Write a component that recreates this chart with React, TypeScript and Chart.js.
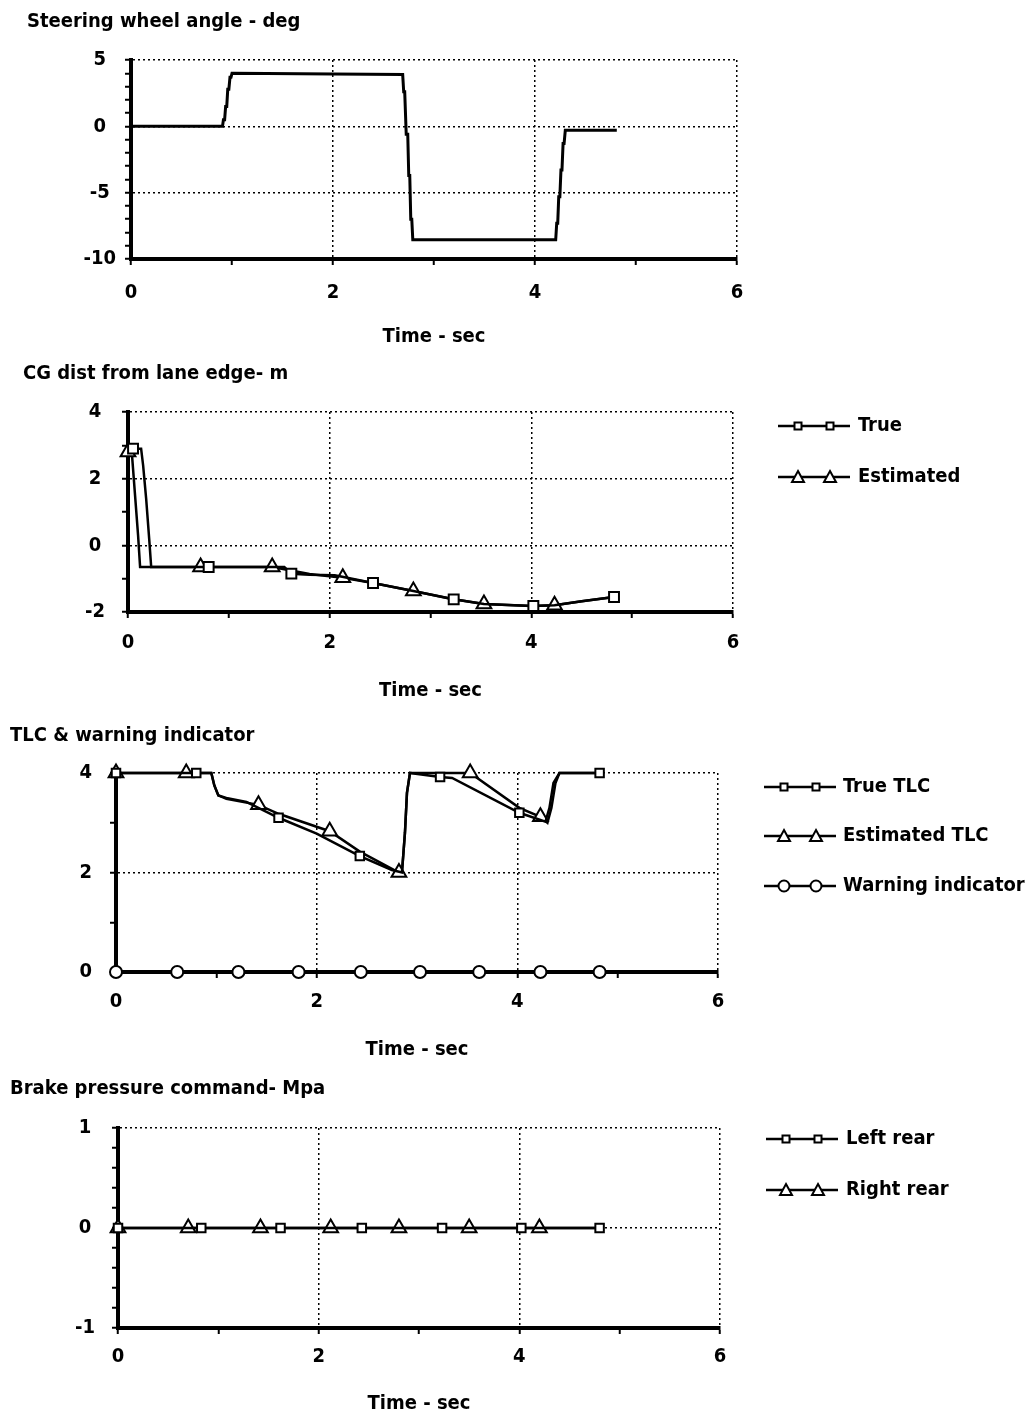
import React, { useEffect, useRef } from 'react';
import { Chart, registerables } from 'chart.js';

Chart.register(...registerables);

const FONT = '"DejaVu Sans Condensed", "DejaVu Sans", sans-serif';
const FSIZE = 20;
const FWEIGHT = 'bold';

// ---------- Panel 1: Steering wheel angle ----------
const steerT = [0, 0.906, 0.915, 0.927, 0.937, 0.948, 0.958, 0.969, 0.98, 0.99, 1.0, 1.01, 2.0, 2.69, 2.7, 2.71, 2.725, 2.74, 2.75, 2.76, 2.77, 2.78, 2.79, 2.8, 4.205, 4.215, 4.225, 4.235, 4.246, 4.257, 4.267, 4.278, 4.288, 4.3, 4.31, 4.81];
const steerV = [0, 0, 0.5, 0.5, 1.5, 1.5, 2.8, 2.8, 3.7, 3.7, 4.0, 4.0, 3.95, 3.9, 2.6, 2.6, -0.6, -0.6, -3.7, -3.7, -7.0, -7.0, -8.55, -8.55, -8.55, -7.3, -7.3, -5.3, -5.3, -3.3, -3.3, -1.3, -1.3, -0.3, -0.3, -0.3];

// ---------- Panel 2: CG distance from lane edge ----------
const cgTrueT = [0.05, 0.13, 0.15, 0.18, 0.21, 0.23, 0.8, 1.55, 1.62, 1.8, 2.05, 2.15, 2.43, 2.83, 3.23, 3.53, 4.02, 4.23, 4.5, 4.82];
const cgTrueV = [2.9, 2.9, 2.4, 1.4, 0.2, -0.65, -0.65, -0.65, -0.85, -0.88, -0.9, -0.96, -1.13, -1.37, -1.62, -1.76, -1.82, -1.8, -1.68, -1.55];
const cgTrueMarks = [0.05, 0.8, 1.62, 2.43, 3.23, 4.02, 4.82];
const cgEstT = [0, 0.04, 0.07, 0.1, 0.12, 0.72, 1.43, 1.55, 1.8, 2.13, 2.43, 2.83, 3.2, 3.53, 4.0, 4.23, 4.5, 4.82];
const cgEstV = [2.8, 2.7, 1.5, 0.3, -0.65, -0.65, -0.65, -0.72, -0.86, -0.97, -1.13, -1.37, -1.6, -1.76, -1.82, -1.8, -1.68, -1.55];
const cgEstMarks = [0, 0.72, 1.43, 2.13, 2.83, 3.53, 4.23];

// ---------- Panel 3: TLC & warning indicator ----------
const tlcTrueT = [0, 0.8, 0.95, 0.98, 1.02, 1.1, 1.3, 1.62, 2.0, 2.43, 2.75, 2.85, 2.88, 2.9, 2.93, 3.23, 3.35, 4.02, 4.28, 4.32, 4.36, 4.42, 4.82];
const tlcTrueV = [4, 4, 4, 3.75, 3.55, 3.5, 3.42, 3.1, 2.78, 2.33, 2.05, 2.0, 2.8, 3.6, 4.0, 3.92, 3.9, 3.2, 3.02, 3.3, 3.8, 4.0, 4.0];
const tlcTrueMarks = [0, 0.8, 1.62, 2.43, 3.23, 4.02, 4.82];
const tlcEstT = [0, 0.7, 0.95, 0.98, 1.02, 1.1, 1.42, 1.62, 2.13, 2.43, 2.82, 2.85, 2.88, 2.9, 2.93, 3.53, 4.02, 4.23, 4.3, 4.34, 4.38, 4.42, 4.82];
const tlcEstV = [4, 4, 4, 3.75, 3.55, 3.48, 3.36, 3.18, 2.83, 2.42, 2.0, 2.0, 2.8, 3.6, 4.0, 4.0, 3.3, 3.12, 3.0, 3.3, 3.8, 4.0, 4.0];
const tlcEstMarks = [0, 0.7, 1.42, 2.13, 2.82, 3.53, 4.23];
const warnT = [0, 0.61, 1.22, 1.82, 2.44, 3.03, 3.62, 4.23, 4.82];
const warnV = [0, 0, 0, 0, 0, 0, 0, 0, 0];

// ---------- Panel 4: Brake pressure command ----------
const leftT = [0, 0.83, 1.62, 2.43, 3.23, 4.02, 4.8];
const leftV = [0, 0, 0, 0, 0, 0, 0];
const rightT = [0, 0.7, 1.42, 2.12, 2.8, 3.5, 4.2, 4.8];
const rightV = [0, 0, 0, 0, 0, 0, 0, 0];
const rightMarks = [0, 0.7, 1.42, 2.12, 2.8, 3.5, 4.2];

const xTicksMajor = 2;

type Marker = 'rect' | 'triangle' | 'circle' | 'none';
type Series = { label: string; t: number[]; v: number[]; marks: number[]; style: Marker; r: number; width: number };
type Legend = { x1: number; x2: number; m1: number; m2: number; tx: number; ys: number[] };
type Panel = {
  top: number; height: number;
  L: number; T: number; R: number; B: number;
  yMin: number; yMax: number; yStep: number; yMajor: number;
  yPad: number; xPad: number; titlePad: number;
  title: string; titleX: number; titleY: number;
  series: Series[];
  legend?: Legend;
};

const panels: Panel[] = [
  {
    top: 0, height: 355, L: 131, T: 60, R: 737, B: 259,
    yMin: -10, yMax: 5, yStep: 1, yMajor: 5, yPad: 9, xPad: 16, titlePad: 6,
    title: 'Steering wheel angle - deg', titleX: 27, titleY: 22,
    series: [{ label: 'Steering', t: steerT, v: steerV, marks: [], style: 'none', r: 0, width: 3 }],
  },
  {
    top: 355, height: 355, L: 128, T: 412, R: 733, B: 612,
    yMin: -2, yMax: 4, yStep: 1, yMajor: 2, yPad: 17, xPad: 13, titlePad: 7,
    title: 'CG dist from lane edge- m', titleX: 23, titleY: 374 - 355,
    series: [
      { label: 'True', t: cgTrueT, v: cgTrueV, marks: cgTrueMarks, style: 'rect', r: 7, width: 2.5 },
      { label: 'Estimated', t: cgEstT, v: cgEstV, marks: cgEstMarks, style: 'triangle', r: 8.5, width: 2.5 },
    ],
    legend: { x1: 778, x2: 850, m1: 798, m2: 830, tx: 858, ys: [426 - 355, 477 - 355] },
  },
  {
    top: 710, height: 358, L: 116, T: 773, R: 718, B: 972,
    yMin: 0, yMax: 4, yStep: 1, yMajor: 2, yPad: 18, xPad: 12, titlePad: 6,
    title: 'TLC & warning indicator', titleX: 10, titleY: 736 - 710,
    series: [
      { label: 'True TLC', t: tlcTrueT, v: tlcTrueV, marks: tlcTrueMarks, style: 'rect', r: 6, width: 2.5 },
      { label: 'Estimated TLC', t: tlcEstT, v: tlcEstV, marks: tlcEstMarks, style: 'triangle', r: 8.5, width: 2.5 },
      { label: 'Warning indicator', t: warnT, v: warnV, marks: warnT, style: 'circle', r: 6, width: 2.5 },
    ],
    legend: { x1: 764, x2: 836, m1: 784, m2: 816, tx: 843, ys: [787 - 710, 836 - 710, 886 - 710] },
  },
  {
    top: 1068, height: 351, L: 118, T: 1128, R: 720, B: 1328,
    yMin: -1, yMax: 1, yStep: 0.2, yMajor: 1, yPad: 17, xPad: 11, titlePad: 3,
    title: 'Brake pressure command- Mpa', titleX: 10, titleY: 1089 - 1068,
    series: [
      { label: 'Left rear', t: leftT, v: leftV, marks: leftT, style: 'rect', r: 6, width: 2.5 },
      { label: 'Right rear', t: rightT, v: rightV, marks: rightMarks, style: 'triangle', r: 8.5, width: 2.5 },
    ],
    legend: { x1: 766, x2: 838, m1: 786, m2: 818, tx: 846, ys: [1139 - 1068, 1190 - 1068] },
  },
];

const isMultiple = (v: number, m: number) => Math.abs(v / m - Math.round(v / m)) < 1e-6;

function drawMarker(ctx: CanvasRenderingContext2D, style: Marker, x: number, y: number) {
  ctx.save();
  ctx.fillStyle = '#fff';
  ctx.strokeStyle = '#000';
  ctx.lineWidth = 2;
  ctx.beginPath();
  if (style === 'rect') {
    ctx.rect(x - 3.5, y - 3.5, 7, 7);
  } else if (style === 'triangle') {
    ctx.moveTo(x, y - 6);
    ctx.lineTo(x + 6, y + 5);
    ctx.lineTo(x - 6, y + 5);
    ctx.closePath();
  } else if (style === 'circle') {
    ctx.arc(x, y, 5.5, 0, Math.PI * 2);
  }
  ctx.fill();
  ctx.stroke();
  ctx.restore();
}

function overlayPlugin(p: Panel) {
  return {
    id: 'overlay',
    afterDraw(chart: any) {
      const ctx: CanvasRenderingContext2D = chart.ctx;
      ctx.save();
      ctx.fillStyle = '#000';
      ctx.font = `${FWEIGHT} ${FSIZE}px ${FONT}`;
      ctx.textBaseline = 'middle';
      ctx.textAlign = 'left';
      ctx.fillText(p.title, p.titleX, p.titleY);
      if (p.legend) {
        const lg = p.legend;
        p.series.forEach((s, i) => {
          const y = lg.ys[i];
          ctx.strokeStyle = '#000';
          ctx.lineWidth = 2.5;
          ctx.beginPath();
          ctx.moveTo(lg.x1, y);
          ctx.lineTo(lg.x2, y);
          ctx.stroke();
          drawMarker(ctx, s.style, lg.m1, y);
          drawMarker(ctx, s.style, lg.m2, y);
          ctx.fillStyle = '#000';
          ctx.fillText(s.label, lg.tx, y);
        });
      }
      ctx.restore();
    },
  };
}

function buildConfig(p: Panel): any {
  const font = { family: FONT, size: FSIZE, weight: FWEIGHT };
  return {
    type: 'line',
    data: {
      datasets: p.series.map((s) => ({
        label: s.label,
        data: s.t.map((t, i) => ({ x: t, y: s.v[i] })),
        borderColor: '#000',
        borderWidth: s.width,
        pointStyle: s.style === 'none' ? 'circle' : s.style,
        pointRadius: (c: any) => {
          const t = s.t[c.dataIndex];
          return s.marks.some((m) => Math.abs(m - t) < 1e-9) ? s.r : 0;
        },
        pointBorderWidth: 2,
        pointBackgroundColor: '#fff',
        pointBorderColor: '#000',
        tension: 0,
        fill: false,
        clip: false,
      })),
    },
    options: {
      responsive: false,
      animation: false,
      events: [],
      layout: { padding: { left: 0, top: p.T - p.top, right: 1032 - p.R, bottom: 0 } },
      plugins: { legend: { display: false }, tooltip: { enabled: false }, title: { display: false } },
      scales: {
        x: {
          type: 'linear',
          min: 0,
          max: 6,
          afterFit: (s: any) => { s.height = p.top + p.height - p.B; },
          ticks: {
            stepSize: 1, autoSkip: false, maxRotation: 0, maxTicksLimit: 100,
            font, color: '#000', padding: p.xPad,
            callback: (v: number) => (isMultiple(v, xTicksMajor) ? String(Math.round(v)) : ''),
          },
          grid: {
            color: (c: any) => (!c.tick || isMultiple(c.tick.value, xTicksMajor) ? '#000' : 'rgba(0,0,0,0)'),
            lineWidth: 1.5, tickColor: '#000', tickLength: 6, tickWidth: 2,
          },
          border: { display: true, color: '#000', width: 4, dash: [2, 3] },
          title: { display: true, text: 'Time - sec', font, color: '#000', padding: { top: 0, bottom: p.titlePad } },
        },
        y: {
          type: 'linear',
          min: p.yMin,
          max: p.yMax,
          afterFit: (s: any) => { s.width = p.L; },
          ticks: {
            stepSize: p.yStep, autoSkip: false, maxTicksLimit: 100,
            font, color: '#000', padding: p.yPad, crossAlign: 'center',
            callback: (v: number) => (isMultiple(v, p.yMajor) ? String(Math.round(v)) : ''),
          },
          grid: {
            color: (c: any) => (!c.tick || isMultiple(c.tick.value, p.yMajor) ? '#000' : 'rgba(0,0,0,0)'),
            lineWidth: 1.5, tickColor: '#000', tickLength: 6, tickWidth: 2,
          },
          border: { display: true, color: '#000', width: 4, dash: [2, 3] },
        },
      },
    },
    plugins: [overlayPlugin(p)],
  };
}

export default function App() {
  const refs = useRef<(HTMLCanvasElement | null)[]>([]);
  useEffect(() => {
    const charts = panels.map((p, i) => new Chart(refs.current[i] as HTMLCanvasElement, buildConfig(p)));
    return () => charts.forEach((c) => c.destroy());
  }, []);
  return (
    <div style={{ position: 'absolute', left: 0, top: 0, width: 1032, height: 1419, background: '#fff', overflow: 'hidden' }}>
      {panels.map((p, i) => (
        <canvas
          key={i}
          ref={(el) => { refs.current[i] = el; }}
          width={1032}
          height={p.height}
          style={{ position: 'absolute', left: 0, top: p.top, width: 1032, height: p.height, display: 'block' }}
        />
      ))}
    </div>
  );
}
